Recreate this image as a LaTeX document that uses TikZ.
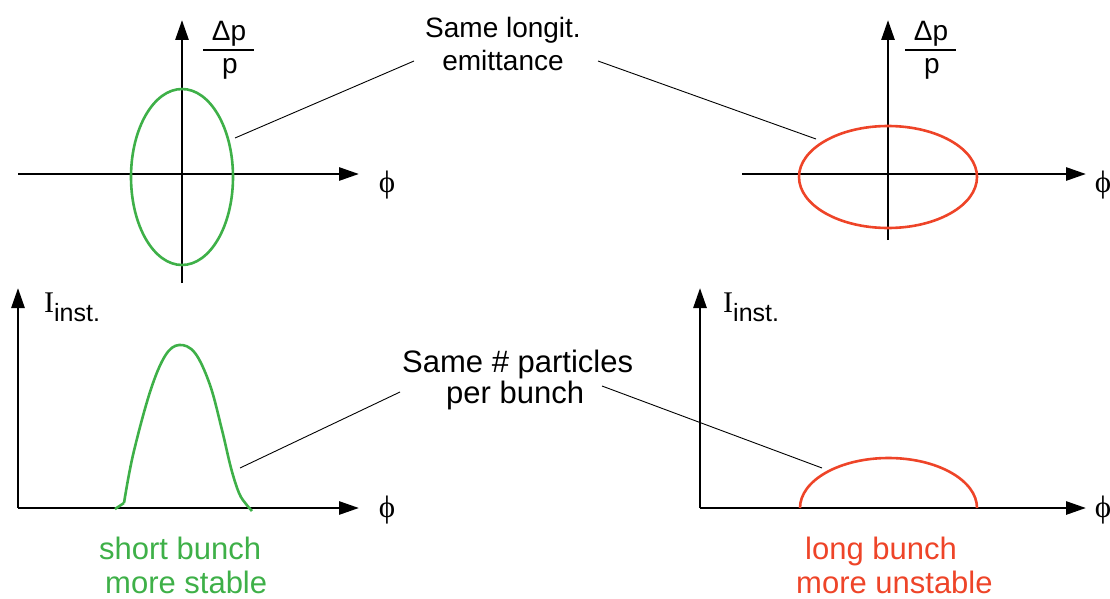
\documentclass[tikz,border=0pt]{standalone}
\usepackage{fontspec}
\setmainfont{Liberation Sans}
\newfontfamily\serifph{Liberation Serif}
\usetikzlibrary{arrows.meta}
\definecolor{bgreen}{RGB}{62,176,72}
\definecolor{bred}{RGB}{238,68,40}
\tikzset{
  axis/.style={line width=2.8pt,-{Triangle[length=20pt,width=13pt]}},
  curve/.style={line width=2.6pt},
  conn/.style={line width=0.9pt},
  lbl/.style={font=\fontsize{28}{33}\selectfont,align=center,inner sep=0pt},
  blbl/.style={font=\fontsize{31}{31}\selectfont,inner sep=0pt,anchor=base west},
  phil/.style={font=\serifph\fontsize{31}{31}\selectfont,inner sep=0pt},
  fracl/.style={font=\fontsize{28}{28}\selectfont,inner sep=0pt}
}
\newcommand{\Iinst}{{\serifph\fontsize{30}{30}\selectfont I}\raisebox{-9pt}{\fontsize{25}{25}\selectfont inst.}}
\begin{document}
\begin{tikzpicture}[x=1pt,y=-1pt]
\useasboundingbox (0,0) rectangle (1110,599);
% ---------- top left ----------
\coordinate (tlx0) at (18,174); \coordinate (tlx1) at (359,174);
\coordinate (tly0) at (182,283); \coordinate (tly1) at (182,20);
\draw[axis] (tlx0) -- (tlx1);
\draw[axis] (tly0) -- (tly1);
\draw[curve,bgreen] (182,177) ellipse [x radius=51, y radius=88];
\node[phil] (phiA) at (387,185) {ϕ};
\node[fracl,anchor=base] (dpA) at (229,41) {Δp};
\node[fracl,anchor=base] (pA) at (230,74) {p};
\draw[line width=2.4pt] (203,50) -- (254,50);
% ---------- top right ----------
\coordinate (trx0) at (742,174); \coordinate (trx1) at (1086,174);
\coordinate (try0) at (888,240); \coordinate (try1) at (888,20);
\draw[axis] (trx0) -- (trx1);
\draw[axis] (try0) -- (try1);
\draw[curve,bred] (888,177) ellipse [x radius=89, y radius=51];
\node[phil] (phiB) at (1103,185) {ϕ};
\node[fracl,anchor=base] (dpB) at (931,41) {Δp};
\node[fracl,anchor=base] (pB) at (932,74) {p};
\draw[line width=2.4pt] (905,50) -- (956,50);
% ---------- bottom left ----------
\coordinate (blo) at (18,508); \coordinate (blx1) at (359,508);
\coordinate (bly1) at (18,288);
\draw[axis] (blo) -- (blx1);
\draw[axis] (blo) -- (bly1);
\draw[curve,bgreen,line join=round] plot[smooth,tension=0.6] coordinates
 {(124,503) (133,455) (150,392) (165,356) (179,345) (195,353) (210,385) (222,430) (231,468) (239,493) (246,504) (252,511)};
\draw[curve,bgreen] (115,509) -- (124,503);
\node[anchor=base west,inner sep=0pt] (IA) at (44,312) {\Iinst};
\node[phil] (phiC) at (387,510) {ϕ};
% ---------- bottom right ----------
\coordinate (bro) at (700,508); \coordinate (brx1) at (1086,508);
\coordinate (bry1) at (700,288);
\draw[axis] (bro) -- (brx1);
\draw[axis] (bro) -- (bry1);
\draw[curve,bred] (800,508) arc[start angle=180,end angle=360,x radius=88.5,y radius=50];
\node[anchor=base west,inner sep=0pt] (IB) at (723,312) {\Iinst};
\node[phil] (phiD) at (1103,510) {ϕ};
% ---------- labels ----------
\node[lbl] (emit) at (503,44) {Same longit.\\emittance};
\node[blbl] (part1) at (402,372) {Same \# particles};
\node[blbl] (part2) at (446,403) {per bunch};
\node[blbl,text=bgreen] (short1) at (99,559) {short bunch};
\node[blbl,text=bgreen] (short2) at (105,593) {more stable};
\node[blbl,text=bred] (long1) at (805,559) {long bunch};
\node[blbl,text=bred] (long2) at (796,593) {more unstable};
% connectors
\coordinate (e1) at (235,138); \coordinate (e2) at (414,61);
\coordinate (e3) at (598,61); \coordinate (e4) at (816,139);
\coordinate (p1) at (240,468); \coordinate (p2) at (400,392);
\coordinate (p3) at (602,386); \coordinate (p4) at (822,468);
\draw[conn] (e1) -- (e2);
\draw[conn] (e3) -- (e4);
\draw[conn] (p1) -- (p2);
\draw[conn] (p3) -- (p4);
\end{tikzpicture}
\end{document}
